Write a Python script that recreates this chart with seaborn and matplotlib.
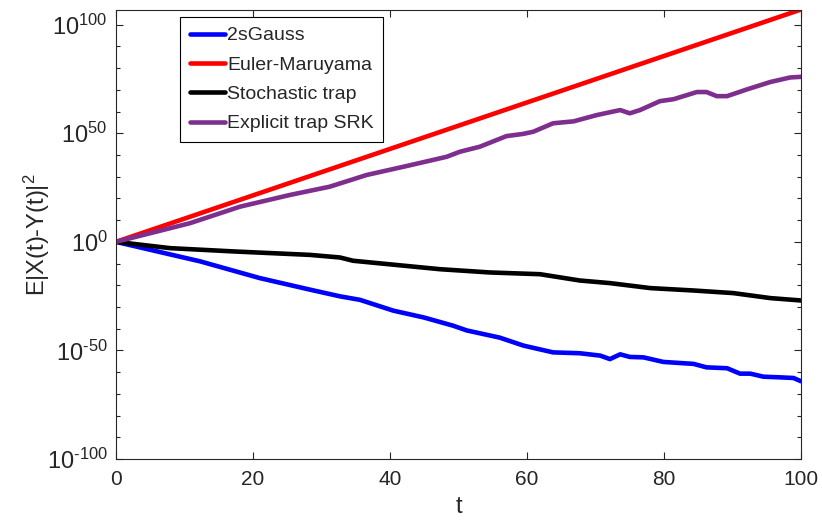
import matplotlib
matplotlib.use("Agg")
import matplotlib.pyplot as plt
import matplotlib.ticker as mticker
import seaborn as sns
import numpy as np
import pandas as pd

# values are log10 of E|X(t)-Y(t)|^2
t_gauss = [0, 12.3, 21, 28.3, 32.7, 35.6, 40.5, 44.9, 49.2, 51.2, 56, 59.5, 63.8,
           67.7, 70.7, 72.1, 73.6, 75, 77, 79.9, 84.3, 86.2, 89.2, 91.1, 92.6,
           94.5, 96.9, 98.9, 100]
log_gauss = [0, -9, -16.7, -22, -25.1, -26.7, -31.7, -34.8, -38.6, -40.8, -44.1,
             -47.8, -50.9, -51.3, -52.4, -54, -51.8, -53, -53.2, -55.3, -56.2,
             -57.8, -58.2, -60.7, -60.7, -62.1, -62.4, -62.7, -64.2]

t_em = [0, 100]
log_em = [0, 107]

t_trap = [0, 7.9, 17.1, 28.3, 32.7, 34.6, 47.3, 54.6, 61.9, 67.7, 72.1, 78, 84.3,
          90.1, 95.5, 100]
log_trap = [0, -2.9, -4.4, -6, -7.2, -8.7, -12.6, -14.1, -14.9, -17.8, -19,
            -21.3, -22.4, -23.6, -25.9, -27]

t_srk = [0, 10.8, 18.1, 25.4, 31.2, 36.6, 42.4, 48.3, 50.2, 53.1, 57, 59.4, 60.9,
         63.8, 66.8, 70.2, 73.6, 75, 76.5, 79.4, 81.4, 84.8, 86.2, 87.7, 89.2,
         92.1, 95.5, 98.4, 100]
log_srk = [0, 8.6, 16.2, 21.6, 25.4, 30.8, 34.9, 39.2, 41.5, 43.8, 48.7, 49.7,
           50.7, 54.6, 55.5, 58.4, 60.7, 59.2, 60.7, 64.8, 65.7, 69, 69, 67.1,
           67.1, 70.2, 73.6, 75.7, 76]

labels = ["2sGauss", "Euler-Maruyama", "Stochastic trap", "Explicit trap SRK"]
colors = ["#0000FF", "#FF0000", "#000000", "#7E2F8E"]
y_major_exp = [-100, -50, 0, 50, 100]

series = [(t_gauss, log_gauss), (t_em, log_em), (t_trap, log_trap), (t_srk, log_srk)]
frames = []
for name, (tt, ll) in zip(labels, series):
    frames.append(pd.DataFrame({"t": tt, "err": np.power(10.0, ll), "method": name}))
df = pd.concat(frames, ignore_index=True)

sns.set_style("ticks")
plt.rcParams["font.family"] = ["Liberation Sans", "DejaVu Sans"]
plt.rcParams["mathtext.fontset"] = "custom"
plt.rcParams["mathtext.rm"] = "Liberation Sans"
plt.rcParams["mathtext.it"] = "Liberation Sans"
plt.rcParams["axes.unicode_minus"] = False

fig = plt.figure(figsize=(8.22, 5.23), dpi=100)
ax = fig.add_axes([0.1411, 0.1224, 0.8334, 0.8594])

sns.lineplot(data=df, x="t", y="err", hue="method", hue_order=labels,
             palette=dict(zip(labels, colors)), linewidth=3.3, ax=ax,
             sort=False, estimator=None)

ax.set_yscale("log")
ax.set_xlim(0, 100)
ax.set_ylim(1e-100, 1e107)
ax.set_xticks([0, 20, 40, 60, 80, 100])
ax.yaxis.set_major_locator(mticker.FixedLocator([10.0 ** k for k in y_major_exp]))
# hyphen in the exponent, like the original
ax.yaxis.set_major_formatter(mticker.FuncFormatter(
    lambda v, p: "10$^{\\text{%d}}$" % int(round(np.log10(v)))))
ax.yaxis.set_minor_locator(mticker.FixedLocator(
    [10.0 ** k for k in range(-90, 110, 10) if k % 50 != 0]))
ax.yaxis.set_minor_formatter(mticker.NullFormatter())

edge = "#262626"
for s in ax.spines.values():
    s.set_color(edge)
    s.set_linewidth(0.8)
ax.tick_params(which="both", direction="in", top=True, right=True, colors=edge,
               labelcolor="#262626")
ax.tick_params(which="major", length=5, width=0.8)
ax.tick_params(which="minor", length=3, width=0.8)
ax.tick_params(axis="x", labelsize=15, pad=8)
ax.tick_params(axis="y", labelsize=17, pad=6)

ax.set_xlabel("t", fontsize=17, color="#262626", labelpad=5)
ax.set_ylabel(r"E|X(t)-Y(t)|$^2$", fontsize=17, color="#262626", labelpad=-4)

leg = ax.legend(loc="upper left", bbox_to_anchor=(0.094, 0.983), fontsize=14,
                frameon=True, fancybox=False, edgecolor="black", framealpha=1,
                handlelength=1.8, handletextpad=0.1, labelspacing=0.6,
                borderpad=0.5, borderaxespad=0)
leg.get_frame().set_linewidth(0.8)
for line in leg.get_lines():
    line.set_linewidth(3.3)

fig.savefig("out.png", dpi=100)
